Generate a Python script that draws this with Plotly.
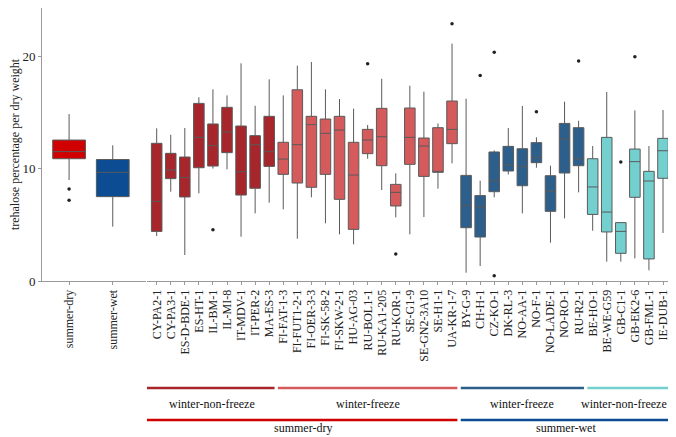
import plotly.graph_objects as go

# ---------------- data ----------------
summer_cats = ["summer-dry", "summer-wet"]
summer_q1 = [10.87, 7.5]
summer_med = [11.5, 9.66]
summer_q3 = [12.53, 10.8]
summer_lo = [8.98, 4.83]
summer_hi = [14.84, 12.06]
summer_out_x = ["summer-dry", "summer-dry"]
summer_out_y = [8.18, 7.17]

sites = ["CY-PA2-1", "CY-PA3-1", "ES-D-BDE-1", "ES-HT-1", "IL-BM-1", "IL-MI-8", "IT-MDV-1", "IT-PER-2", "MA-ES-3",
         "FI-FAT-1-3", "FI-FUT1-2-1", "FI-OER-3-3", "FI-SK-58-2", "FI-SKW-2-1", "HU-AG-03", "RU-BOL1-1", "RU-KA1-205",
         "RU-KOR-1", "SE-G1-9", "SE-GN2-3A10", "SE-H1-1", "UA-KR-1-7",
         "BY-G-9", "CH-H-1", "CZ-KO-1", "DK-RL-3", "NO-AA-1", "NO-F-1", "NO-LADE-1", "NO-RO-1", "RU-R2-1",
         "BE-HO-1", "BE-WE-G59", "GB-C1-1", "GB-EK2-6", "GB-FML-1", "IE-DUB-1"]
site_hi = [13.57, 13.0, 13.6, 16.33, 17.04, 16.5, 19.35, 15.58, 17.93,
           16.5, 19.14, 19.47, 17.04, 16.18, 15.32, 13.87, 17.98, 9.57, 17.36, 16.83, 14.01, 21.1,
           16.21, 8.92, 11.61, 13.6, 15.56, 12.77, 10.25, 15.94, 14.25,
           12.0, 16.8, 5.19, 15.17, 12.0, 15.2]
site_q3 = [12.24, 11.35, 11.02, 15.79, 13.96, 15.44, 13.78, 12.92, 14.64,
           12.33, 17.0, 14.64, 14.4, 14.64, 12.33, 13.48, 15.35, 8.59, 15.38, 12.71, 13.63, 16.0,
           9.39, 7.59, 11.47, 11.97, 11.76, 12.3, 9.36, 14.01, 13.63,
           10.87, 12.77, 5.19, 11.73, 9.75, 12.68]
site_med = [7.08, 9.87, 9.19, 12.77, 12.03, 13.24, 9.72, 12.12, 11.5,
            10.84, 12.12, 13.9, 13.13, 13.42, 9.42, 12.53, 12.83, 7.88, 12.77, 12.0, 9.75, 13.48,
            6.7, 6.58, 8.92, 10.34, 10.19, 10.99, 7.97, 12.62, 10.87,
            8.36, 6.13, 4.41, 10.61, 8.89, 11.58]
site_q1 = [4.41, 9.1, 7.47, 10.07, 10.22, 11.41, 7.64, 8.24, 10.19,
           9.48, 8.71, 8.33, 9.48, 7.26, 4.59, 11.32, 10.25, 6.67, 10.37, 9.3, 9.66, 12.21,
           4.74, 3.91, 7.94, 9.78, 8.47, 10.52, 6.19, 9.6, 10.25,
           5.92, 4.36, 2.46, 7.44, 1.96, 9.13]
site_lo = [4.0, 7.94, 2.31, 7.79, 10.0, 9.93, 3.94, 6.01, 6.96,
           6.37, 3.76, 7.44, 5.13, 4.15, 3.26, 10.87, 8.09, 5.66, 4.15, 5.69, 8.21, 10.46,
           0.74, 1.33, 7.44, 9.48, 6.01, 10.07, 3.41, 5.57, 7.88,
           4.47, 1.72, 1.72, 2.01, 0.95, 4.27]
out_sites = ["IL-BM-1", "RU-BOL1-1", "RU-KOR-1", "UA-KR-1-7", "CH-H-1", "CZ-KO-1", "CZ-KO-1",
             "NO-F-1", "RU-R2-1", "GB-C1-1", "GB-EK2-6"]
out_vals = [4.56, 19.32, 2.4, 22.87, 18.28, 20.33, 0.47, 15.05, 19.56, 10.58, 19.94]

winter_names = ["winter-non-freeze", "winter-freeze", "winter-freeze", "winter-non-freeze"]
winter_sizes = [9, 13, 9, 6]
summer_names = ["summer-dry", "summer-wet"]
summer_sizes = [22, 15]

y_ticks = [0, 10, 20]

# ---------------- styles ----------------
FONT = "Liberation Serif"
summer_colors = ["#D10000", "#0B4C92"]
winter_colors = ["#A6262B", "#D45A5C", "#2D5F8C", "#74CFCF"]
BOX_LINE = "#5a5a5a"
AXIS_COL = "#9a9a9a"

fig = go.Figure()

# left panel
for i, c in enumerate(summer_cats):
    fig.add_trace(go.Box(
        x=[c], q1=[summer_q1[i]], median=[summer_med[i]], q3=[summer_q3[i]],
        lowerfence=[summer_lo[i]], upperfence=[summer_hi[i]],
        fillcolor=summer_colors[i], line=dict(color=BOX_LINE, width=1),
        whiskerwidth=0, width=0.75, boxpoints=False, showlegend=False,
        xaxis="x", yaxis="y"))
fig.add_trace(go.Scatter(x=summer_out_x, y=summer_out_y, mode="markers",
                         marker=dict(color="#222", size=3.5), showlegend=False,
                         xaxis="x", yaxis="y"))

# right panel
start = 0
for g, n in enumerate(winter_sizes):
    sl = slice(start, start + n)
    fig.add_trace(go.Box(
        x=sites[sl], q1=site_q1[sl], median=site_med[sl], q3=site_q3[sl],
        lowerfence=site_lo[sl], upperfence=site_hi[sl],
        fillcolor=winter_colors[g], line=dict(color=BOX_LINE, width=1),
        whiskerwidth=0, width=0.75, boxpoints=False, showlegend=False,
        xaxis="x2", yaxis="y2"))
    start += n
fig.add_trace(go.Scatter(x=out_sites, y=out_vals, mode="markers",
                         marker=dict(color="#222", size=3.5), showlegend=False,
                         xaxis="x2", yaxis="y2"))

# group brackets
x_left = -0.7
x_right = len(sites) - 0.36
shapes = []
annotations = []


def brackets(names, sizes, colors, y_line, y_text):
    pos = 0
    for k, (nm, n) in enumerate(zip(names, sizes)):
        a = x_left if pos == 0 else pos - 0.5
        b = x_right if pos + n == len(sites) else pos + n - 0.5
        last = pos + n == len(sites)
        shapes.append(dict(type="line", xref="x2", yref="paper",
                           x0=a + (0.12 if pos else 0), x1=b - (0 if last else 0.12),
                           y0=y_line, y1=y_line,
                           line=dict(color=colors[k], width=2.5)))
        annotations.append(dict(xref="x2", yref="paper", x=(a + b) / 2, y=y_text,
                                text=nm, showarrow=False, yanchor="middle",
                                xshift=-5 if (last and len(nm) > 14) else 0,
                                font=dict(family=FONT, size=12, color="#111")))
        pos += n


# plot area height is 273 px (page is offset by the 8px body margin)
brackets(winter_names, winter_sizes, winter_colors, -0.392, -0.451)
brackets(summer_names, summer_sizes, summer_colors, -0.509, -0.54)

tickfont = dict(family=FONT, size=12, color="#222")
fig.update_layout(
    width=668, height=429,
    margin=dict(l=27, r=4, t=0, b=156),
    plot_bgcolor="white", paper_bgcolor="white",
    boxmode="overlay",
    shapes=shapes, annotations=annotations,
    xaxis=dict(domain=[0, 0.165], type="category", categoryarray=summer_cats,
               range=[-0.62, 1.76], showline=True, linecolor=AXIS_COL, linewidth=1,
               ticks="outside", ticklen=3, tickcolor=AXIS_COL, tickangle=-90,
               tickfont=tickfont, showgrid=False, zeroline=False, anchor="y"),
    yaxis=dict(range=[0, 24.27], tickvals=y_ticks, showline=True, linecolor=AXIS_COL, linewidth=1,
               ticks="outside", ticklen=3, tickcolor=AXIS_COL, showgrid=False, zeroline=False,
               tickfont=dict(family=FONT, size=13, color="#222"),
               title=dict(text="trehalose percentage per dry weight", standoff=6,
                          font=dict(family=FONT, size=12, color="#222")),
               anchor="x"),
    xaxis2=dict(domain=[0.1664, 1], type="category", categoryarray=sites,
                range=[x_left, x_right], showline=True, linecolor=AXIS_COL, linewidth=1,
                ticks="outside", ticklen=3, tickcolor=AXIS_COL, tickangle=-90,
                tickfont=tickfont, showgrid=False, zeroline=False, anchor="y2"),
    yaxis2=dict(range=[0, 24.27], visible=False, anchor="x2"),
)

fig.write_html("out.html")
